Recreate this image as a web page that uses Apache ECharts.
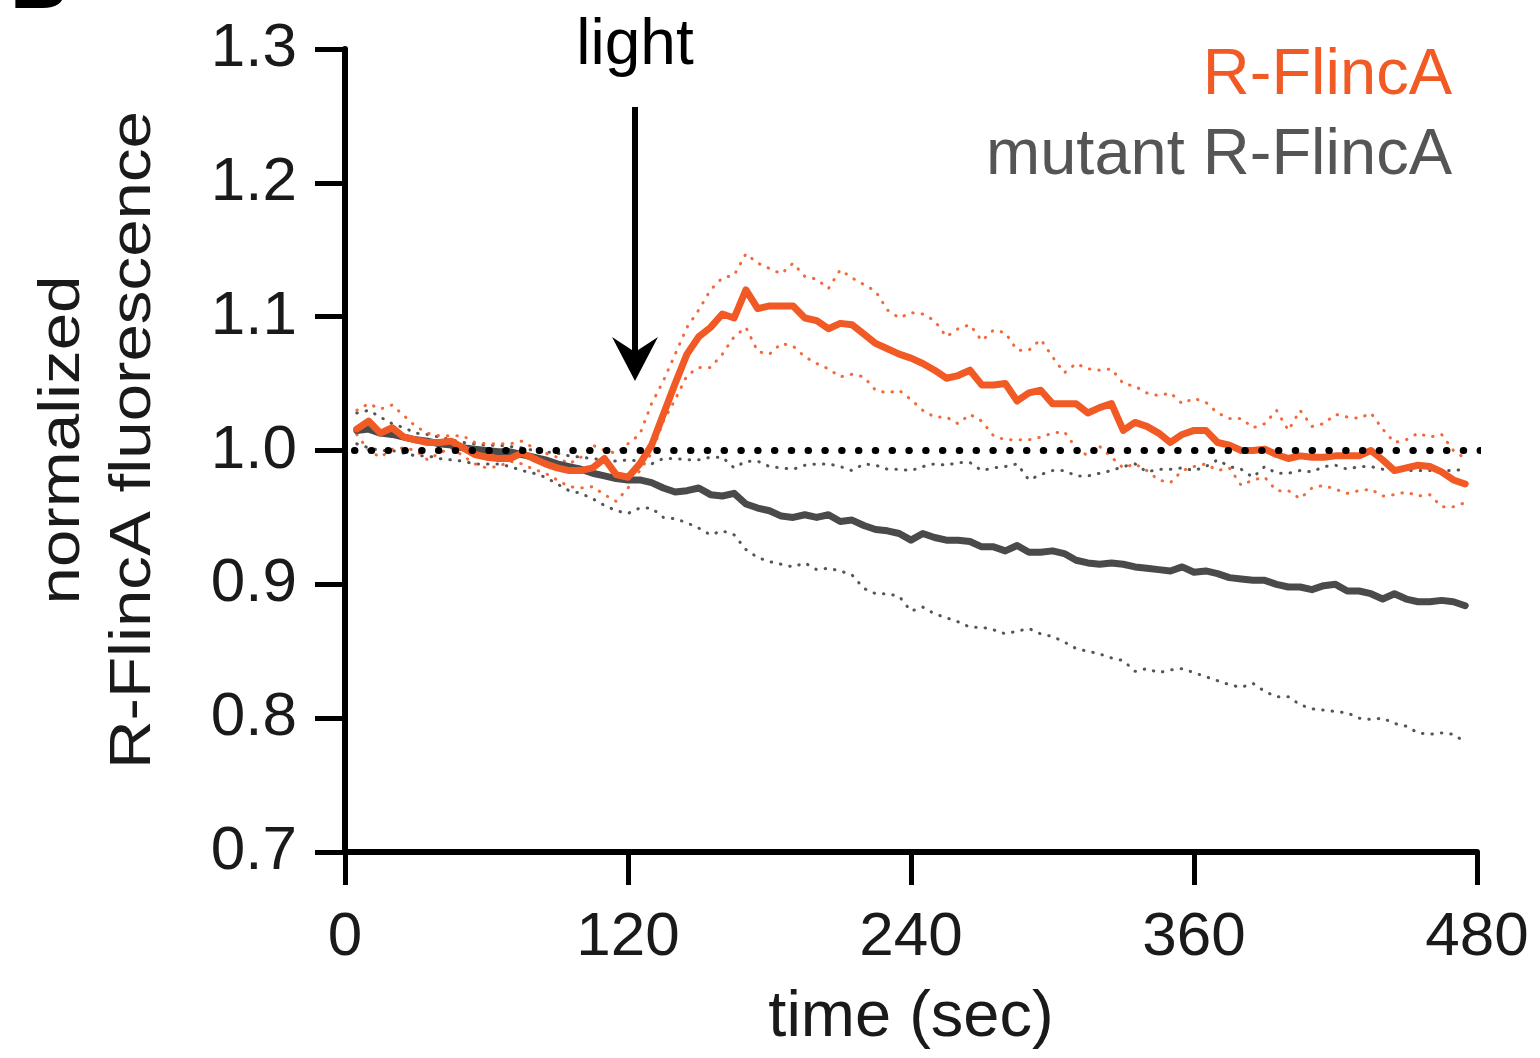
<!DOCTYPE html>
<html>
<head>
<meta charset="utf-8">
<script src="https://cdn.jsdelivr.net/npm/echarts@6/dist/echarts.min.js"></script>
<style>
html,body{margin:0;padding:0;background:#fff;}
#chart{width:1540px;height:1058px;}
</style>
</head>
<body>
<div id="chart"></div>
<script>
// time points (sec)
var timeSec = [5,10,15,20,25,30,35,40,45,50,55,60,65,70,75,80,85,90,95,100,
  105,110,115,120,125,130,135,140,145,150,155,160,165,170,175,180,185,190,195,200,
  205,210,215,220,225,230,235,240,245,250,255,260,265,270,275,280,285,290,295,300,
  305,310,315,320,325,330,335,340,345,350,355,360,365,370,375,380,385,390,395,400,
  405,410,415,420,425,430,435,440,445,450,455,460,465,470,475];

var rflincaMean = [1.016,1.022,1.013,1.017,1.010,1.008,1.006,1.006,1.007,1.002,0.997,0.995,0.994,0.994,0.998,0.994,0.990,0.987,0.985,0.985,
  0.987,0.994,0.982,0.980,0.990,1.004,1.027,1.050,1.072,1.085,1.092,1.102,1.099,1.120,1.106,1.108,1.108,1.108,1.099,1.097,
  1.091,1.095,1.094,1.087,1.080,1.076,1.072,1.069,1.065,1.060,1.054,1.056,1.060,1.049,1.049,1.050,1.037,1.043,1.045,1.035,
  1.035,1.035,1.028,1.032,1.035,1.015,1.021,1.018,1.013,1.006,1.012,1.015,1.015,1.006,1.004,1.000,1.000,1.001,0.997,0.994,
  0.996,0.995,0.995,0.996,0.996,0.996,1.000,0.993,0.985,0.987,0.989,0.988,0.984,0.978,0.975];

var rflincaUpper = [1.030,1.035,1.031,1.034,1.026,1.018,1.013,1.011,1.011,1.011,1.006,1.005,1.005,1.005,1.007,1.002,0.998,0.995,0.990,0.995,
  1.004,1.000,0.998,1.005,1.012,1.035,1.052,1.072,1.092,1.105,1.120,1.129,1.131,1.147,1.140,1.136,1.132,1.140,1.130,1.128,
  1.121,1.135,1.129,1.124,1.119,1.105,1.099,1.103,1.102,1.097,1.085,1.091,1.094,1.082,1.090,1.088,1.075,1.075,1.083,1.070,
  1.058,1.065,1.061,1.060,1.061,1.050,1.048,1.043,1.041,1.043,1.035,1.039,1.036,1.028,1.024,1.024,1.017,1.020,1.030,1.015,
  1.030,1.018,1.020,1.027,1.025,1.024,1.028,1.016,1.006,1.008,1.013,1.010,1.012,1.000,0.994];

var rflincaLower = [1.012,1.000,0.995,1.001,1.002,1.000,0.993,0.998,1.002,0.996,0.990,0.987,0.988,0.992,0.990,0.986,0.983,0.978,0.973,0.972,
  0.973,0.967,0.962,0.972,0.985,0.998,1.022,1.038,1.056,1.062,1.062,1.072,1.085,1.092,1.074,1.072,1.080,1.078,1.070,1.065,
  1.061,1.055,1.057,1.055,1.045,1.043,1.045,1.038,1.030,1.025,1.025,1.020,1.027,1.022,1.011,1.008,1.008,1.008,1.010,1.013,
  1.014,1.002,0.996,1.003,0.995,0.987,0.990,0.985,0.978,0.976,0.985,0.988,0.990,0.985,0.987,0.974,0.978,0.980,0.970,0.970,
  0.964,0.972,0.974,0.971,0.968,0.970,0.971,0.966,0.967,0.969,0.966,0.967,0.958,0.958,0.961];

var mutantMean = [1.015,1.016,1.013,1.012,1.010,1.008,1.007,1.005,1.004,1.002,1.001,1.000,0.999,0.999,0.997,0.995,0.993,0.990,0.988,0.986,
  0.983,0.981,0.979,0.978,0.978,0.976,0.972,0.969,0.970,0.972,0.967,0.966,0.968,0.960,0.957,0.955,0.951,0.950,0.952,0.950,
  0.952,0.947,0.948,0.944,0.941,0.940,0.938,0.933,0.938,0.935,0.933,0.933,0.932,0.928,0.928,0.925,0.929,0.924,0.924,0.925,
  0.923,0.918,0.916,0.915,0.916,0.915,0.913,0.912,0.911,0.910,0.913,0.909,0.910,0.908,0.905,0.904,0.903,0.903,0.900,0.898,
  0.898,0.896,0.899,0.900,0.895,0.895,0.893,0.889,0.893,0.889,0.887,0.887,0.888,0.887,0.884];

var mutantUpper = [1.028,1.030,1.025,1.020,1.017,1.013,1.012,1.010,1.008,1.006,1.005,1.004,1.004,1.003,1.002,1.000,0.999,0.998,0.996,0.995,
  0.994,0.993,0.992,0.993,0.992,0.990,0.994,0.994,0.993,0.993,0.995,0.995,0.987,0.992,0.992,0.988,0.987,0.986,0.989,0.990,
  0.990,0.988,0.985,0.990,0.989,0.986,0.986,0.985,0.988,0.990,0.989,0.991,0.991,0.985,0.987,0.988,0.990,0.978,0.982,0.985,
  0.985,0.981,0.981,0.983,0.985,0.988,0.990,0.984,0.986,0.986,0.987,0.985,0.988,0.993,0.988,0.986,0.980,0.988,0.983,0.983,
  0.985,0.984,0.988,0.989,0.986,0.988,0.988,0.986,0.986,0.985,0.985,0.985,0.985,0.985,0.986];

var mutantLower = [1.005,1.002,1.000,1.000,0.998,0.996,0.996,0.994,0.993,0.992,0.990,0.990,0.990,0.988,0.985,0.983,0.980,0.975,0.970,0.968,
  0.964,0.959,0.955,0.953,0.957,0.957,0.950,0.949,0.946,0.942,0.937,0.940,0.937,0.926,0.920,0.917,0.915,0.913,0.916,0.911,
  0.912,0.910,0.907,0.897,0.893,0.893,0.891,0.880,0.883,0.878,0.875,0.872,0.868,0.868,0.866,0.863,0.865,0.867,0.863,0.861,
  0.857,0.852,0.850,0.848,0.845,0.843,0.835,0.837,0.834,0.836,0.837,0.834,0.831,0.828,0.825,0.823,0.826,0.820,0.816,0.816,
  0.810,0.807,0.806,0.805,0.804,0.800,0.799,0.800,0.796,0.794,0.789,0.788,0.789,0.788,0.782];

// reference (baseline) line and annotations
var baselineX = [4, 482];
var baselineY = 1.0;
var lightTime = 123;
var xTicks = [0, 120, 240, 360, 480];
var yTicks = [0.7, 0.8, 0.9, 1.0, 1.1, 1.2, 1.3];
var legendNames = ['R-FlincA', 'mutant R-FlincA'];

var ORANGE = '#f15a24';
var ORANGE_DOT = '#f26a3c';
var GRAY = '#4a4a4a';
var GRAY_DOT = '#555555';
var FONT = 'Liberation Sans, Arial, sans-serif';

function pairs(vals) { return timeSec.map(function (t, i) { return [t, vals[i]]; }); }

var chart = echarts.init(document.getElementById('chart'), null, {renderer: 'canvas'});

var dotBand = function (color) {
  return {width: 3, color: color, type: [0.5, 9], cap: 'round'};
};

var option = {
  backgroundColor: '#ffffff',
  animation: false,
  grid: {left: 345, right: 63, top: 49, bottom: 206, containLabel: false, outerBoundsMode: 'none'},
  xAxis: {
    type: 'value', min: xTicks[0], max: xTicks[xTicks.length - 1], interval: 120,
    axisLine: {show: true, onZero: false, lineStyle: {color: '#000', width: 6}},
    axisTick: {show: true, length: 33, inside: false, lineStyle: {color: '#000', width: 5}},
    axisLabel: {fontSize: 62, color: '#1a1a1a', margin: 55, fontFamily: FONT},
    splitLine: {show: false},
    name: 'time (sec)', nameLocation: 'middle', nameGap: 134,
    nameTextStyle: {fontSize: 65, color: '#1a1a1a', fontFamily: FONT}
  },
  yAxis: {
    type: 'value', min: yTicks[0], max: yTicks[yTicks.length - 1], interval: 0.1,
    axisLine: {show: true, onZero: false, lineStyle: {color: '#000', width: 6}},
    axisTick: {show: true, length: 30, inside: false, lineStyle: {color: '#000', width: 5}},
    axisLabel: {fontSize: 62, color: '#1a1a1a', margin: 48, fontFamily: FONT,
      formatter: function (v) { return v.toFixed(1); }},
    splitLine: {show: false}
  },
  series: [
    {type: 'line', name: 'mutant upper', data: pairs(mutantUpper), symbol: 'none', lineStyle: dotBand(GRAY_DOT), z: 2},
    {type: 'line', name: 'mutant lower', data: pairs(mutantLower), symbol: 'none', lineStyle: dotBand(GRAY_DOT), z: 2},
    {type: 'line', name: 'R upper', data: pairs(rflincaUpper), symbol: 'none', lineStyle: dotBand(ORANGE_DOT), z: 3},
    {type: 'line', name: 'R lower', data: pairs(rflincaLower), symbol: 'none', lineStyle: dotBand(ORANGE_DOT), z: 3},
    {type: 'line', name: legendNames[1], data: pairs(mutantMean), symbol: 'none',
      lineStyle: {width: 7, color: GRAY, join: 'round', cap: 'round'}, z: 4},
    {type: 'line', name: legendNames[0], data: pairs(rflincaMean), symbol: 'none',
      lineStyle: {width: 7, color: ORANGE, join: 'round', cap: 'round'}, z: 5},
    {type: 'line', name: 'baseline', data: [[baselineX[0], baselineY], [baselineX[1], baselineY]], symbol: 'none', clip: false,
      lineStyle: {width: 7, color: '#000', type: [0.5, 16.3], cap: 'round'}, z: 6}
  ]
};
chart.setOption(option);

var lp = chart.convertToPixel({gridIndex: 0}, [lightTime, 1.3]);
var ax = Math.round(lp[0]);
chart.setOption({
  graphic: [
    {type: 'text', left: 10, top: -54, style: {text: 'B', fontSize: 80, fontWeight: 'bold', fill: '#000', fontFamily: FONT}},
    {type: 'text', x: 98, y: 440, rotation: Math.PI / 2, scaleX: 1.16, scaleY: 1,
      style: {text: 'normalized\nR-FlincA fluorescence', fontSize: 58, lineHeight: 71, fill: '#1a1a1a',
        fontFamily: 'Liberation Sans Narrow, Arial Narrow, sans-serif', align: 'center', verticalAlign: 'middle'}},
    {type: 'text', x: 1452, y: 76, style: {text: legendNames[0], fontSize: 65, fill: ORANGE, align: 'right', verticalAlign: 'middle',
      fontFamily: FONT}},
    {type: 'text', x: 1452, y: 156, style: {text: legendNames[1], fontSize: 65, fill: '#555555', align: 'right', verticalAlign: 'middle',
      fontFamily: FONT}},
    {type: 'text', x: ax, y: 46, style: {text: 'light', fontSize: 64, fill: '#000', align: 'center', verticalAlign: 'middle',
      fontFamily: FONT}},
    {type: 'line', shape: {x1: ax, y1: 107, x2: ax, y2: 360}, style: {stroke: '#000', lineWidth: 6}},
    {type: 'polygon', shape: {points: [[ax - 23, 337], [ax, 381], [ax + 23, 337], [ax, 352]]}, style: {fill: '#000'}}
  ]
});
</script>
</body>
</html>
